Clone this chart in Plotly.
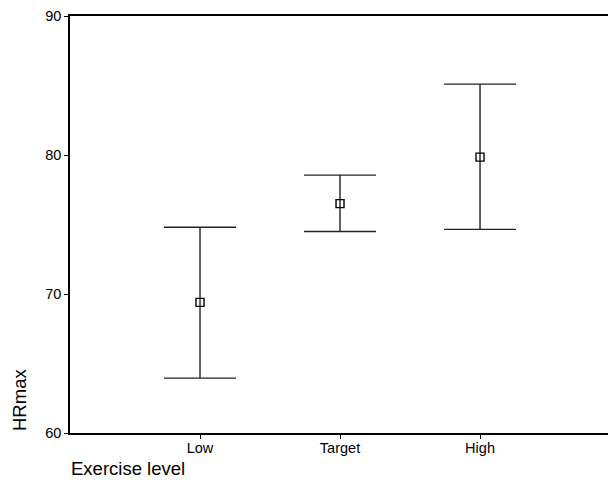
import plotly.graph_objects as go

categories = ["Low", "Target", "High"]
means = [69.4, 76.5, 79.85]
upper = [74.8, 78.55, 85.1]
lower = [63.95, 74.5, 74.65]
y_ticks = [60, 70, 80, 90]

err_plus = [u - m for u, m in zip(upper, means)]
err_minus = [m - l for m, l in zip(means, lower)]

fig = go.Figure()
fig.add_trace(go.Scatter(
    x=categories, y=means, mode="markers",
    marker=dict(symbol="square-open", size=8, color="black", line=dict(width=1.4, color="black")),
    error_y=dict(type="data", symmetric=False, array=err_plus, arrayminus=err_minus,
                 width=36, thickness=1.4, color="#222"),
    showlegend=False,
))

font = "Liberation Sans, Arial, sans-serif"
fig.update_layout(
    width=608, height=480,
    margin=dict(l=70, r=0, t=16, b=47),
    plot_bgcolor="white", paper_bgcolor="white",
    font=dict(family=font, size=14.5, color="black"),
    xaxis=dict(type="category", categoryorder="array", categoryarray=categories,
               range=[-0.9286, 2.914], showgrid=False, zeroline=False,
               showline=True, linecolor="black", linewidth=1.5, mirror=True,
               ticks="outside", ticklen=4, tickwidth=1, tickcolor="black",
               ticklabelstandoff=-3),
    yaxis=dict(range=[60, 90], tickvals=y_ticks, showgrid=False, zeroline=False,
               showline=True, linecolor="black", linewidth=1.5, mirror=False,
               ticks="outside", ticklen=4, tickwidth=1, tickcolor="black",
               ticklabelstandoff=0),
    annotations=[
        dict(text="HRmax", xref="paper", yref="paper", x=(19 - 70) / 538, y=0,
             xanchor="center", yanchor="bottom", textangle=-90, showarrow=False,
             font=dict(size=18.5)),
        dict(text="Exercise level", xref="paper", yref="paper", x=0, y=(433 - 479.5) / 417,
             xanchor="left", yanchor="bottom", showarrow=False, borderpad=0,
             font=dict(size=18.5)),
    ],
)

fig.write_html("out.html")
